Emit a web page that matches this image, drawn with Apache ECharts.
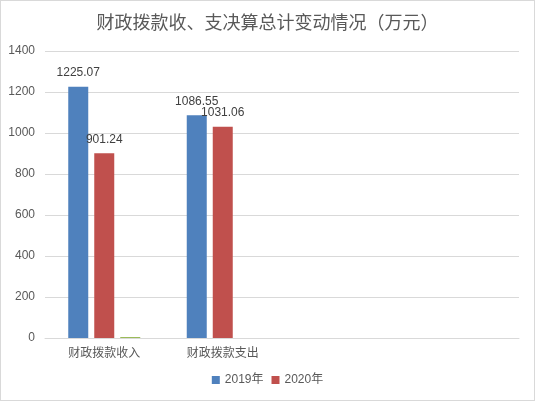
<!DOCTYPE html>
<html><head><meta charset="utf-8">
<script src="https://cdn.jsdelivr.net/npm/echarts@6/dist/echarts.min.js"></script>
<style>html,body{margin:0;padding:0;background:#fff}#c{width:533px;height:399px;border:1px solid #d9d9d9}</style>
</head><body><div id="c"></div>
<script>
const categories = ['财政拨款收入', '财政拨款支出', '', ''];
const values2019 = [1225.07, 1086.55, null, null];
const values2020 = [901.24, 1031.06, null, null];
const valuesOther = [5, 0, null, null];
const yTicks = [0, 1400, 200];

const chart = echarts.init(document.getElementById('c'));
const lbl = {show: true, position: 'top', color: '#404040', fontSize: 12, fontFamily: 'Liberation Sans, Arial, sans-serif', distance: 8};
chart.setOption({
  animation: false,
  title: {text: '财政拨款收、支决算总计变动情况{p|（}万元{p|）}', left: 'center', top: 7,
    textStyle: {color: '#595959', fontSize: 18, fontWeight: 'normal', fontFamily: 'Noto Sans CJK SC, sans-serif',
      rich: {p: {fontSize: 18, color: '#595959', fontFamily: 'Noto Sans CJK TC, sans-serif'}}}},
  legend: {bottom: 9, left: 'center', itemWidth: 8, itemHeight: 8, itemGap: 8, icon: 'rect',
    data: ['2019年', '2020年'],
    textStyle: {color: '#595959', fontSize: 12, fontFamily: 'Liberation Sans, Noto Sans CJK SC, sans-serif'}},
  grid: {left: 44, right: 15, top: 50, bottom: 62},
  xAxis: {type: 'category', data: categories,
    axisLine: {lineStyle: {color: '#d9d9d9'}}, axisTick: {show: false},
    axisLabel: {color: '#595959', fontSize: 12, margin: 8, fontFamily: 'Noto Sans CJK SC, sans-serif'}},
  yAxis: {type: 'value', min: yTicks[0], max: yTicks[1], interval: yTicks[2],
    axisLine: {show: false}, axisTick: {show: false},
    splitLine: {lineStyle: {color: '#d9d9d9'}},
    axisLabel: {color: '#595959', fontSize: 12, margin: 10, formatter: v => String(v), fontFamily: 'Liberation Sans, Arial, sans-serif'}},
  series: [
    {name: '2019年', type: 'bar', data: values2019, barWidth: 20, barGap: '30%', itemStyle: {color: '#4F81BD'}, label: lbl},
    {name: '2020年', type: 'bar', data: values2020, barWidth: 20, barGap: '30%', itemStyle: {color: '#C0504D'}, label: lbl},
    {name: '其他', type: 'bar', data: valuesOther, barWidth: 20, barGap: '30%', itemStyle: {color: '#9BBB59'}}
  ]
});
</script></body></html>
